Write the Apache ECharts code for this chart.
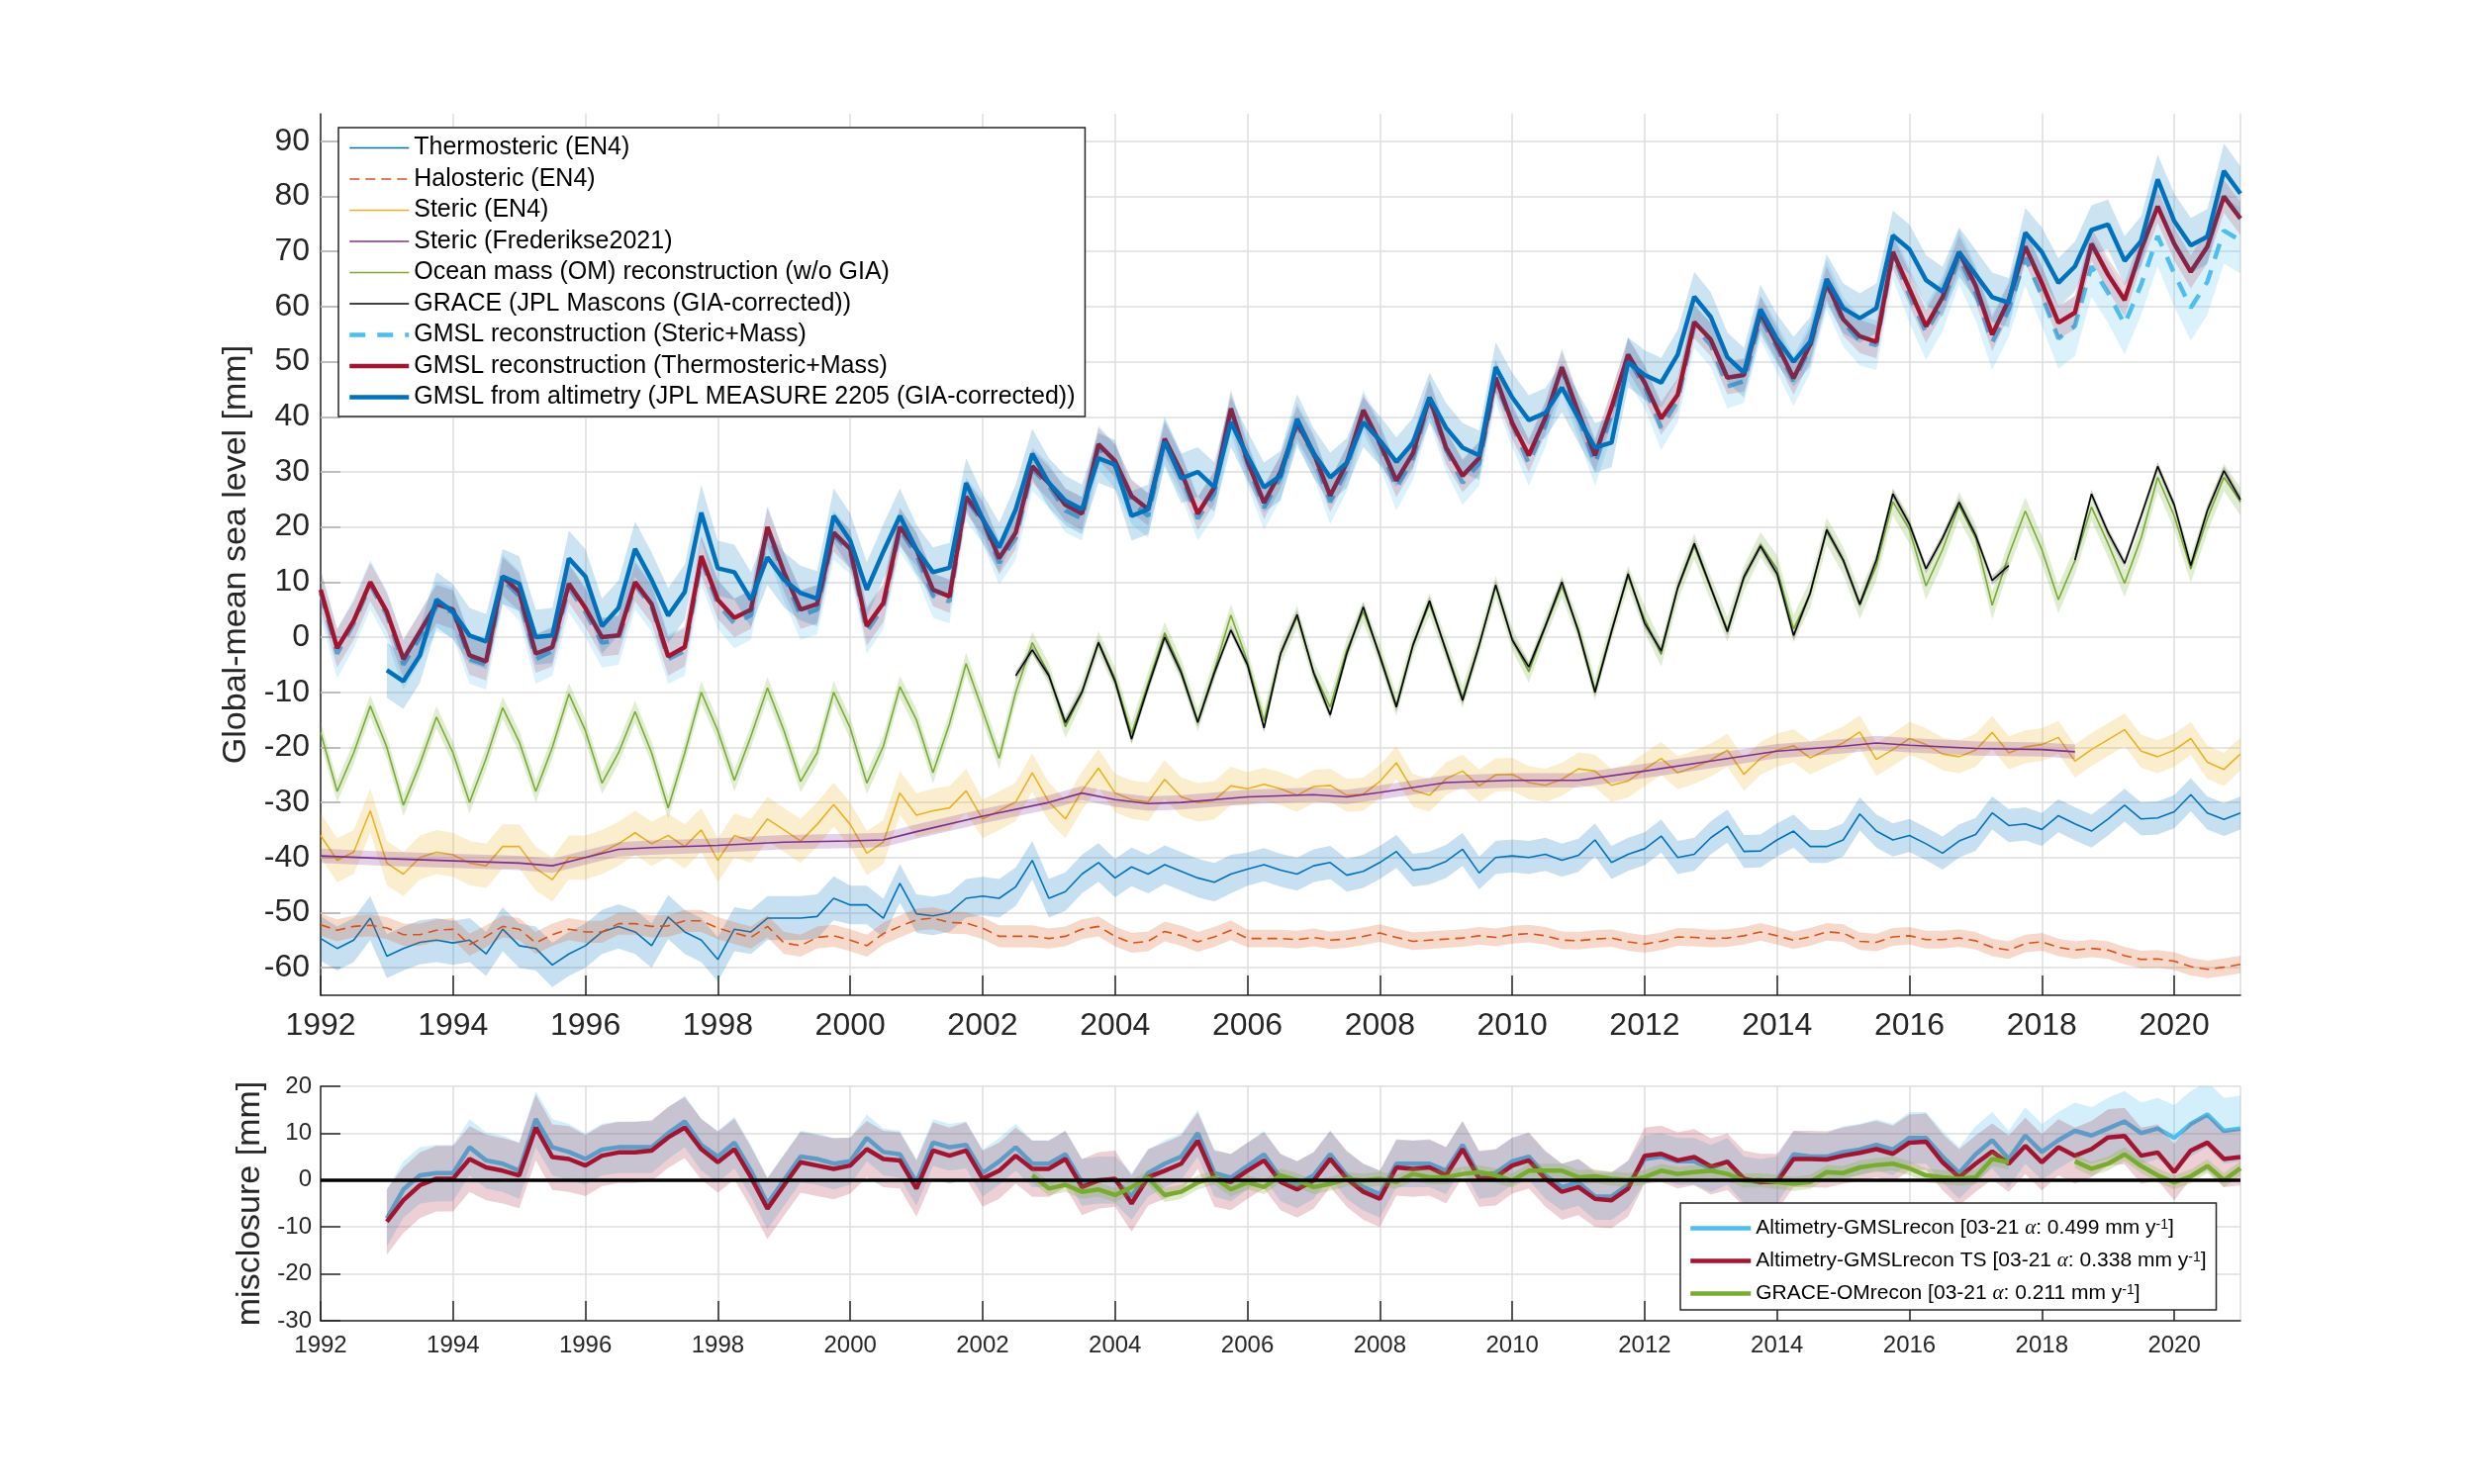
<!DOCTYPE html>
<html><head><meta charset="utf-8">
<script src="https://cdn.jsdelivr.net/npm/echarts@6.0.0/dist/echarts.min.js"></script>
<style>html,body{margin:0;padding:0;background:#fff}#c{width:2500px;height:1500px}</style>
</head><body><div id="c"></div><script>
// ---------- time grid (quarterly, 1992.0 .. 2021.0) ----------
const START_YEAR = 1992, STEP = 0.25, N = 117;
const quarters = Array.from({length: N}, (_, i) => START_YEAR + i * STEP);
const mainYTicks = [-60,-50,-40,-30,-20,-10,0,10,20,30,40,50,60,70,80,90];

// ---------- main panel series (mm) ----------
const thermosteric = [
 -54.7,-56.5,-55,-51, -57.9,-56.5,-55.4,-55, -55.5,-55,-57.5,-53, -56,-56.5,-59.5,-57.5,
 -56,-53.5,-52.5,-53.5, -56,-50.8,-53.5,-55, -58.5,-53,-53.5,-51, -51,-51,-50.7,-47.4,
 -48.6,-48.6,-51,-44.7, -50.2,-50.6,-50,-47.4, -47,-47.4,-45.3,-40.5, -47.4,-46.2,-43,-40.9,
 -43.7,-41.7,-43,-41.3, -42.5,-43.7,-44.5,-43, -42.1,-41.3,-42.3,-43, -41.5,-40.9,-43.2,-42.5,
 -40.9,-38.9,-42.3,-41.9, -40.7,-38.5,-42.8,-40, -39.7,-40,-39.4,-40.5, -39.6,-36.8,-40.9,-39.4,
 -38.4,-36.1,-40,-39.4, -36.4,-34.3,-38.9,-38.8, -36.8,-35.2,-38,-38, -36.8,-32.1,-35.2,-36.8,
 -36,-37.5,-39.2,-37, -35.8,-31.9,-34.2,-33.9, -34.9,-32.4,-33.9,-35.2, -33,-30.5,-33,-32.8,
 -31.7,-28.6,-31.9,-33.1, -31.9];
const halosteric = [
 -52.2,-53.2,-52.5,-52.3, -52.8,-54,-54,-53.2, -53,-55.8,-54.3,-52.5, -53,-55.5,-54,-53,
 -53.5,-53.5,-52,-52, -52.5,-52.4,-51.5,-51.5, -52.8,-53.7,-54.5,-52.5, -55.5,-56,-54.5,-54.2,
 -55,-56,-53.8,-52.5, -51.3,-51,-51.8,-51.9, -52.8,-54.3,-54.3,-54.3, -54.7,-54.3,-53,-52.5,
 -54.3,-55.5,-55.2,-53.4, -54.2,-55.3,-54.4,-53.2, -54.7,-54.7,-54.7,-54.9, -54.5,-55,-54.8,-54.3,
 -53.7,-54.5,-55.2,-55, -54.8,-54.6,-54.2,-54.5, -54,-53.8,-54.2,-55, -55.1,-54.8,-54.6,-55.3,
 -55.7,-55.2,-54.4,-54.5, -54.7,-54.6,-54.2,-53.5, -54.2,-55,-54.4,-53.5, -53.7,-55.2,-55.4,-54.4,
 -54.2,-54.9,-54.9,-54.6, -55.1,-56.3,-56.8,-55.6, -55.3,-56.3,-56.8,-56.5, -56.8,-57.8,-58.5,-58.4,
 -58.8,-59.8,-60.3,-59.9, -59.4];
const stericEN4 = [
 -36,-40.5,-39,-31.5, -41,-43,-40,-39, -39.5,-41,-41.5,-38, -38,-42,-44,-40,
 -40,-39,-37.5,-35.5, -37.5,-36,-38,-35, -40.5,-36,-37,-33, -35,-37,-34,-30.4,
 -34,-39.2,-37.2,-28.3, -32.3,-31.5,-31,-27.9, -33,-31.5,-29.9,-24.6, -29.9,-33,-27.9,-23.8,
 -28.3,-29.5,-29.9,-25.8, -29,-30,-29.6,-27, -27.5,-26.7,-27.5,-28.7, -27.1,-26.9,-28.7,-28.5,
 -26.2,-22.8,-27.8,-28.7, -25.7,-24.3,-27,-25, -24.9,-26.4,-26.9,-25.8, -23.9,-24.3,-26.9,-26.1,
 -24,-22,-24.6,-23.6, -22.3,-20.5,-24.9,-22, -20.5,-19.7,-21.9,-20.5, -19.2,-17.2,-22.2,-20.4,
 -18.4,-19.5,-21.2,-21.7, -20.5,-17.3,-21,-19.9, -19.5,-18.2,-22.5,-20.4, -18.6,-16.8,-20.7,-21.7,
 -20.5,-18.4,-22.7,-24, -21.2];
const fredYears = [1992,1993,1994,1995,1995.5,1996,1996.5,1997,1998,1999,2000,2000.5,2001,2002,2003,2003.5,2004,2004.5,2005,2006,2007,2007.5,2008,2009,2010,2011,2012,2013,2014,2015,2015.5,2016,2017,2018,2018.5];
const stericFred = [-39.7,-40.2,-40.6,-41,-41.5,-40,-38.5,-38.2,-37.8,-37.2,-37,-36.8,-35.3,-32.5,-30,-28.3,-29.5,-30.2,-30,-29,-28.6,-29,-28.2,-26.4,-26,-26,-24.3,-22.5,-20.7,-19.8,-19.2,-19.6,-20.2,-20.4,-20.8];
const oceanMass = [
 -17.3,-28,-21,-12.5, -20,-30.5,-23,-14.5, -21,-30,-22,-12.8, -19,-28,-20,-10.3,
 -17,-26.5,-21,-13.5, -21,-31,-21,-10, -17,-26,-18,-9.2, -17,-26.2,-21,-10,
 -16.5,-26.5,-19.8,-9, -15,-24.6,-15.7,-4.8, -13.3,-22,-10,-1, -6.7,-16.3,-10,-0.9,
 -7.5,-17.5,-8.3,0.8, -6,-15.2,-6,4, -4.4,-15.2,-3,3.7, -6.3,-12.7,-2.3,4.6,
 -3.1,-12.3,-1.3,6, -2.2,-10.9,-1.3,9.2, -0.4,-6.3,1.9,9.2, 1.4,-9.5,1.4,11,
 3.3,-3.1,8.8,16.5, 8.8,1.4,10.6,16.8, 12.4,1.5,7.8,19.2, 13.9,5.8,12.9,24.6,
 19.5,9.3,15.9,23.9, 18,5.8,14.9,22.9, 15.9,6.8,13.9,23.6, 17,9.8,18,29,
 22,12.4,21.5,29, 24.6];
const grace = [
 null,null,null,null, null,null,null,null, null,null,null,null, null,null,null,null,
 null,null,null,null, null,null,null,null, null,null,null,null, null,null,null,null,
 null,null,null,null, null,null,null,null, null,null,-7,-2.3, -7,-15.5,-10,-1,
 -8,-18.5,-9,0, -6.5,-15.5,-6.5,1.3, -5,-16.5,-3,4.1, -6.5,-14.1,-3,5.5,
 -3.5,-12.7,-1.5,6.6, -2.5,-11.5,-1.5,9.5, -0.5,-5.4,2,10, 1,-10,1,11.5,
 2.5,-2.5,9,17, 9,1,11,16.5, 11.5,0.3,8,19.5, 14,6,14,26,
 20.5,12.4,18,24.5, 18.5,10.3,13,null, null,null,14,26, 19,13.4,22,31,
 24,13,23,30.2, 25];
const gmslStericMass = [
 8,-3,2.5,9.5, 4,-5,0,5.5, 4.5,-4,-5,10.5, 7.5,-4,-2.5,9,
 4.5,-1,-0.5,9.5, 5.5,-4,-2.5,14, 6,2.5,4,19.5, 11,4,5,18.5,
 15.5,1,5.5,19.5, 15,7.5,6.5,25, 21,13.5,18,30.5, 27.5,23,21.5,34.5,
 31,24.5,22,35.5, 29.5,21.5,26,41, 31.5,23.5,29,38.5, 33,24.5,30.5,41,
 35,27,32.5,43, 34,28,31.5,46.5, 38.5,31.5,38.5,48.5, 40,31.5,40.5,50.5,
 45.5,38,43,56.5, 53,45.5,46.5,58, 52.5,46.5,52.5,64, 57.2,53.8,53,69.5,
 62,55.3,60.5,69, 62.5,53.5,59.5,68.8, 62,54.2,56.5,67.3, 62.5,56.8,64,72.8,
 66,59.8,64.5,73.8, 72];
const gmslThermoMass = [
 8.6,-2,3,10, 4.6,-4,1,6, 5,-3.3,-4.4,11, 8.2,-3,-1.8,9.7,
 5.3,0,0.3,10, 6,-3.5,-1.8,14.7, 6.8,3.5,5,20, 11.8,5,6,19,
 16,2,6.2,20, 15.9,8.6,7.4,25.5, 21.5,14.3,19,31, 28,24,22.4,35,
 32,25.6,23.2,36, 30,22.4,27.2,41.5, 32,24.4,30,38.9, 33.4,25.7,31.6,41.2,
 35.3,28.4,33.4,43.5, 34.4,29.3,32.5,47.1, 38.9,33,39.8,49, 40.7,33,41.7,51.3,
 46.2,39.7,44,57.2, 54,47.1,47.6,58.9, 53.1,47,53.1,64.3, 57.7,54.6,53.6,69.9,
 63.2,56.4,61.7,69.9, 63.8,54.9,61.2,70.9, 64.3,57.1,58.9,71.4, 65.8,61.2,70.4,78.2,
 71.4,66.3,70.9,80, 76];
const gmslAltimetry = [
 null,null,null,null, -6,-8,-3.3,6.8, 4.6,0.3,-0.8,11, 9.7,0,0.3,14.3,
 11,2,5.3,16, 10.4,3.9,8.2,22.6, 12.5,11.8,6.8,14.5, 10.4,8,7,22,
 17.5,8.6,15.5,22, 15.9,11.8,12.6,28, 21.5,16.3,23.2,33.3, 28,24.8,23.2,32.5,
 31.3,22,23.2,35.5, 28.8,30,27.2,39, 32.9,27.2,29.3,39.6, 33.4,29,31.6,39,
 35.7,31.8,35.3,43.5, 38,34.4,33,49, 43.5,39.4,40.7,45.3, 39.8,34.4,35.3,49.9,
 47.6,46.2,51.3,61.8, 58.1,50.8,48,59.5, 54.1,50,53.6,65, 59.7,57.9,59.7,72.9,
 70.4,64.8,62.7,69.9, 65.8,61.7,60.7,73.4, 69.9,64.3,67.3,73.9, 74.9,68.3,71.9,83.1,
 75.5,71.1,72.7,84.6, 80.5];

// uncertainty half-widths (mm), one value per year 1992..2021
const thermoSig = [4,4,4,4,4,4,4,4,3.5,3.5,3.5,3.5,3.5,3.5,3,3,3,3,3,3,3,3,3,3,3,3,3,3,3,3];
const haloSig   = [2,2,2,2,2,2,2,2,2,2,2,1.8,1.8,1.8,1.6,1.6,1.6,1.6,1.6,1.6,1.6,1.6,1.6,1.6,1.6,1.6,1.6,1.6,1.6,1.6];
const stericSig = [4,4,4,4,4,4,4,4,4,4,3.5,3.5,3.5,3.5,3,3,3,3,3,3,3,3,3,3,3,3,3,3,3,3];
const fredSig   = [1.3,1.3,1.3,1.3,1.3,1.3,1.3,1.3,1.3,1.3,1.3,1.3,1.3,1.3,1.3,1.3,1.3,1.3,1.3,1.3,1.3,1.3,1.3,1.3,1.3,1.3,1.3,1.3,1.3,1.3];
const omSig     = [2,2,2,2,2,2,2,2,2,2,2,2,2,2,2,2,2,2,2,2,2.3,2.3,2.5,2.5,2.5,2.5,2.5,2.5,2.5,2.5];
const graceSig  = [0.8,0.8,0.8,0.8,0.8,0.8,0.8,0.8,0.8,0.8,0.8,0.8,0.8,0.8,0.8,0.8,0.8,0.8,0.8,0.8,0.8,0.8,0.8,0.8,0.8,0.8,0.8,0.8,0.8,0.8];
const smSig     = [4.5,4.5,4.5,4.5,4.5,4.5,4.5,4.5,4,4,4,4,4,4,4,4,4,4,4,4,4,4,4.5,4.5,5,5,5.5,5.5,6,6];
const tmSig     = [3.5,3.5,3.5,3.5,3.5,3.5,3.5,3.5,3.5,3,3,3,3,3,3,3,3,3,3,3,3,3,3,3,3,3,3,3,3,3];
const altSig    = [5,5,5,5,5,5,5,5,5,4.5,4.5,4.5,4.5,4.5,4.5,4.5,4.5,4.5,4.5,4.5,4.5,4.5,4.5,4.5,4.5,4.5,4.5,4.5,5,5];

// ---------- misclosure panel (mm) ----------
const misAltRecon = [
 null,null,null,null, -8.2,-2,1,1.5, 1.5,7,4.2,3.5, 2,13,7,6,
 4.5,6.5,7,7, 7,10,12.5,7.5, 5,8,2,-5, 0,5,4.5,3.5,
 4,9,6,5.5, -0.5,8,7,7.5, 1.5,4,7,3.5, 3.5,5.5,-0.5,0,
 0,-3.5,1.5,3.5, 5,10,1.5,0.5, 3,5.5,0.5,-1, 1,5.5,1,-1.5,
 -3,3.5,3.5,3.5, 2,7.5,1,1.5, 4,5,1,-1.5, -0.5,-3.5,-3.5,-1,
 4.5,5,4,4, 2.5,4,0,-0.5, 0,5.5,5,5, 6,6.5,7.5,6.5,
 9,9,5,1.5, 5.5,8.5,4.5,9.5, 6,8.5,10.5,9.5, 11,12.5,10,11,
 9,12,14,10.5, 11];
const misAltReconTS = [
 null,null,null,null, -8.9,-4.3,-1.1,0.3, 0.3,4.5,2.7,2, 1,11.2,4.9,4.5,
 3.1,5.2,5.9,5.9, 6.3,9.1,11.2,6.6, 3.8,6.6,0.6,-6.1, -1.1,3.8,3.1,2.4,
 3.1,6.6,4.5,4.2, -1.8,6.3,5.2,6.3, 0.3,2,5.2,2.4, 2.4,4.5,-1.5,-0.1,
 0.3,-5,0.6,2, 3.5,8.4,0.3,-0.4, 2,4.2,-0.4,-2, -0.1,4.5,0.3,-2.5,
 -4,2.7,2.4,2.7, 1,6.6,0.3,0.6, 3.1,4.2,0.3,-2.5, -1.5,-4,-4.3,-1.8,
 5.2,5.6,4.2,4.9, 2.9,3.9,0.3,-0.4, -0.4,4.5,4.5,4.4, 5.2,5.8,6.6,5.6,
 8,8.2,3.8,0.6, 3.5,6.1,3.5,7.3, 3.8,7,5.2,6.6, 9.1,9.4,5.2,5.9,
 1.7,6.3,8,4.5, 4.9];
const misGraceOM = [
 null,null,null,null, null,null,null,null, null,null,null,null, null,null,null,null,
 null,null,null,null, null,null,null,null, null,null,null,null, null,null,null,null,
 null,null,null,null, null,null,null,null, null,null,null,1, -1.8,-1,-2.5,-2,
 -3.2,-1.5,0.5,-3.2, -2.5,-0.5,0.5,-2, -0.5,-1.5,1,0, -1.5,-0.8,0.2,-0.1,
 0.3,-0.4,1.3,0.6, 0.6,1.3,1.7,1, -0.1,2,2,2, 0.6,0.8,0.3,0,
 0.6,2,1.3,1.7, 2,1.3,-0.1,0, -0.4,-0.8,-0.4,1.7, 1.5,2.7,3.2,3.5,
 2.5,1,0.6,0.3, 0.6,4.5,3.8,null, null,null,4,2.4, 3.5,5.5,3,1,
 -0.5,0.8,3,0, 2.5];
const misAltSig   = [6,6,6,6,5.5,5.5,5.5,5.5,5,5,5,5,5,5,5,5,5,5,5,5,5,5,5,5.5,5.5,6,6,6.5,7,7];
const misTSSig    = [7,7,7,7,6.5,6.5,6.5,6.5,6,6,6,6,6,6,6,6,6,6,6,6,6,6,6,6,6,6,6,6,6,6];
const misGraceSig = [1.5,1.5,1.5,1.5,1.5,1.5,1.5,1.5,1.5,1.5,1.5,1.5,1.5,1.5,1.5,1.5,1.5,1.5,1.5,1.5,1.5,1.5,1.5,1.5,1.5,1.5,1.5,1.5,1.5,1.5];
const misLegendRates = ['0.499', '0.338', '0.211'];

// ---------- styling ----------
const FONT = '"Liberation Sans", Arial, Helvetica, sans-serif';
const AX = '#262626';
const GRIDC = '#dedede';
const C = {blue:'#0072BD', orange:'#D95319', yellow:'#EDB120', purple:'#7E2F8E', green:'#77AC30', cyan:'#4DBEEE', red:'#A2142F', black:'#000000'};

function sigAt(sig, t) { return sig[Math.min(sig.length - 1, Math.max(0, Math.floor(t - START_YEAR)))]; }

function band(ax, times, vals, sig, fill, z) {
  return {
    type: 'custom', xAxisIndex: ax, yAxisIndex: ax, z: z, silent: true, clip: true,
    data: [[times[0], 0]],
    renderItem: function (params, api) {
      const polys = [];
      let seg = [];
      const flush = function () {
        if (seg.length > 1) {
          const up = seg.map(p => api.coord([p[0], p[1] + p[2]]));
          const lo = seg.map(p => api.coord([p[0], p[1] - p[2]])).reverse();
          polys.push({type: 'polygon', shape: {points: up.concat(lo)}, style: {fill: fill}});
        }
        seg = [];
      };
      for (let i = 0; i < times.length; i++) {
        if (vals[i] === null || vals[i] === undefined) flush();
        else seg.push([times[i], vals[i], sigAt(sig, times[i])]);
      }
      flush();
      return {type: 'group', children: polys};
    }
  };
}
function line(name, ax, times, vals, color, width, type, z) {
  return {
    type: 'line', name: name, xAxisIndex: ax, yAxisIndex: ax, z: z,
    data: times.map((t, i) => [t, vals[i]]),
    symbol: 'none', showSymbol: false, connectNulls: false, clip: true, silent: true,
    lineStyle: {color: color, width: width, type: type || 'solid'},
    itemStyle: {color: color}, emphasis: {disabled: true}
  };
}

const N1 = 'Thermosteric (EN4)', N2 = 'Halosteric (EN4)', N3 = 'Steric (EN4)', N4 = 'Steric (Frederikse2021)',
      N5 = 'Ocean mass (OM) reconstruction (w/o GIA)', N6 = 'GRACE (JPL Mascons (GIA-corrected))',
      N7 = 'GMSL reconstruction (Steric+Mass)', N8 = 'GMSL reconstruction (Thermosteric+Mass)',
      N9 = 'GMSL from altimetry (JPL MEASURE 2205 (GIA-corrected))';
const M1 = 'Altimetry-GMSLrecon', M2 = 'Altimetry-GMSLrecon TS', M3 = 'GRACE-OMrecon';

const series = [
  {type: 'line', xAxisIndex: 0, yAxisIndex: 0, data: [], z: 1, silent: true,
   markLine: {silent: true, z: 1, symbol: ['none', 'none'], label: {show: false}, animation: false,
     lineStyle: {color: GRIDC, width: 1.5, type: 'solid'}, emphasis: {disabled: true},
     data: mainYTicks.map(v => ({yAxis: v}))}},
  band(0, quarters, thermosteric, thermoSig, 'rgba(0,114,189,0.22)', 2),
  line(N1, 0, quarters, thermosteric, C.blue, 1.6, 'solid', 3),
  band(0, quarters, halosteric, haloSig, 'rgba(217,83,25,0.22)', 4),
  line(N2, 0, quarters, halosteric, C.orange, 1.6, [10, 6], 5),
  band(0, quarters, stericEN4, stericSig, 'rgba(237,177,32,0.22)', 6),
  line(N3, 0, quarters, stericEN4, C.yellow, 1.6, 'solid', 7),
  band(0, fredYears, stericFred, fredSig, 'rgba(126,47,142,0.22)', 8),
  line(N4, 0, fredYears, stericFred, C.purple, 1.6, 'solid', 9),
  band(0, quarters, oceanMass, omSig, 'rgba(119,172,48,0.22)', 10),
  line(N5, 0, quarters, oceanMass, C.green, 1.6, 'solid', 11),
  band(0, quarters, grace, graceSig, 'rgba(0,0,0,0.2)', 12),
  line(N6, 0, quarters, grace, C.black, 1.6, 'solid', 13),
  band(0, quarters, gmslStericMass, smSig, 'rgba(77,190,238,0.2)', 14),
  line(N7, 0, quarters, gmslStericMass, C.cyan, 4.5, [16, 12], 15),
  band(0, quarters, gmslThermoMass, tmSig, 'rgba(162,20,47,0.17)', 16),
  line(N8, 0, quarters, gmslThermoMass, C.red, 4.5, 'solid', 17),
  band(0, quarters, gmslAltimetry, altSig, 'rgba(0,114,189,0.2)', 18),
  line(N9, 0, quarters, gmslAltimetry, C.blue, 4.5, 'solid', 19),

  band(1, quarters, misAltRecon, misAltSig, 'rgba(77,190,238,0.25)', 20),
  line(M1, 1, quarters, misAltRecon, C.cyan, 4.5, 'solid', 21),
  band(1, quarters, misAltReconTS, misTSSig, 'rgba(162,20,47,0.2)', 22),
  line(M2, 1, quarters, misAltReconTS, C.red, 4.5, 'solid', 23),
  band(1, quarters, misGraceOM, misGraceSig, 'rgba(119,172,48,0.25)', 24),
  line(M3, 1, quarters, misGraceOM, C.green, 4.5, 'solid', 25),
  {type: 'line', xAxisIndex: 1, yAxisIndex: 1, data: [], z: 30, silent: true,
   markLine: {silent: true, z: 30, symbol: ['none', 'none'], label: {show: false}, animation: false,
     lineStyle: {color: '#000', width: 3.5, type: 'solid'}, emphasis: {disabled: true},
     data: [{yAxis: 0}]}}
];

function xAxisCfg(grid, fs, margin) {
  return {type: 'value', gridIndex: grid, min: 1992, max: 2021, interval: 2,
    axisLine: {show: true, onZero: false, lineStyle: {color: AX, width: 1.5}},
    axisTick: {show: true, inside: true, length: 20, lineStyle: {color: AX, width: 1.5}},
    axisLabel: {fontSize: fs, color: AX, margin: margin, fontFamily: FONT, showMaxLabel: false,
      formatter: v => (v % 2 === 0 ? String(v) : '')},
    splitLine: {show: true, lineStyle: {color: GRIDC, width: 1.5}}};
}

const hiddenSymbol = {opacity: 0, color: 'rgba(0,0,0,0)', borderWidth: 0, borderColor: 'rgba(0,0,0,0)'};

const option = {
  backgroundColor: '#ffffff',
  animation: false,
  textStyle: {fontFamily: FONT},
  grid: [
    {left: 324, top: 115, width: 1940, height: 891},
    {left: 324, top: 1098, width: 1940, height: 237}
  ],
  xAxis: [xAxisCfg(0, 32, 15), xAxisCfg(1, 24, 13)],
  yAxis: [
    {type: 'value', gridIndex: 0, min: -65, max: 95,
     axisLine: {show: true, onZero: false, lineStyle: {color: AX, width: 1.5}},
     axisTick: {show: true, inside: true, length: 20, customValues: mainYTicks, lineStyle: {color: AX, width: 1.5}},
     axisLabel: {customValues: mainYTicks, fontSize: 32, color: AX, margin: 11, fontFamily: FONT},
     splitLine: {show: false},
     name: 'Global-mean sea level [mm]', nameLocation: 'middle', nameGap: 63,
     nameTextStyle: {fontSize: 34, color: AX, fontFamily: FONT}},
    {type: 'value', gridIndex: 1, min: -30, max: 20, interval: 10,
     axisLine: {show: true, onZero: false, lineStyle: {color: AX, width: 1.5}},
     axisTick: {show: true, inside: true, length: 20, lineStyle: {color: AX, width: 1.5}},
     axisLabel: {fontSize: 24, color: AX, margin: 9, fontFamily: FONT},
     splitLine: {show: true, lineStyle: {color: GRIDC, width: 1.5}},
     name: 'misclosure [mm]', nameLocation: 'middle', nameGap: 44,
     nameTextStyle: {fontSize: 34, color: AX, fontFamily: FONT}}
  ],
  legend: [
    {orient: 'vertical', left: 342, top: 129, padding: [8, 10, 7, 9], itemWidth: 60, itemHeight: 20, itemGap: 6.5,
     backgroundColor: '#ffffff', borderColor: AX, borderWidth: 1.5, z: 100, selectedMode: false,
     itemStyle: hiddenSymbol,
     lineStyle: {width: 'inherit'},
     textStyle: {fontSize: 25, lineHeight: 25, color: '#000', fontFamily: FONT},
     data: [N1, N2, N3, N4, N5, N6, N7, N8, N9]},
    {orient: 'vertical', left: 1698, top: 1216, padding: [15, 10, 6, 8], itemWidth: 61, itemHeight: 20, itemGap: 12,
     backgroundColor: '#ffffff', borderColor: AX, borderWidth: 1.5, z: 100, selectedMode: false,
     itemStyle: hiddenSymbol,
     lineStyle: {width: 'inherit'},
     textStyle: {fontSize: 21, lineHeight: 21, color: '#000', fontFamily: FONT,
       rich: {
         a: {fontSize: 21, lineHeight: 21, fontStyle: 'italic', fontFamily: '"Liberation Serif", serif', color: '#000'},
         s: {fontSize: 14, lineHeight: 21, verticalAlign: 'top', fontFamily: FONT, color: '#000'}
       }},
     formatter: function (name) {
       const idx = [M1, M2, M3].indexOf(name);
       return name + ' [03-21 {a|α}: ' + misLegendRates[idx] + ' mm y{s|-1}]';
     },
     data: [M1, M2, M3]}
  ],
  series: series
};

const chart = echarts.init(document.getElementById('c'), null, {renderer: 'canvas', width: 2500, height: 1500});
chart.setOption(option);
</script></body></html>
